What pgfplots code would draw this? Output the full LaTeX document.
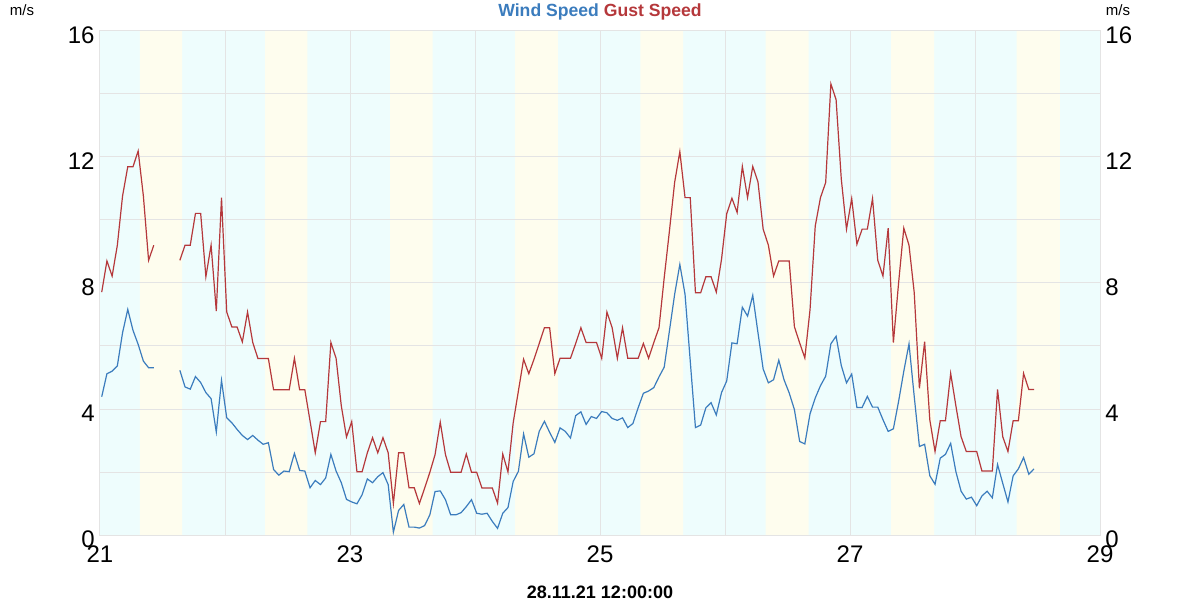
\documentclass[border=0pt]{standalone}
\usepackage{pgfplots}
\pgfplotsset{compat=1.18}
\usepackage{pgfplotstable}
\usepackage{fontspec}
\setmainfont{Liberation Sans}
\definecolor{windblue}{HTML}{3B7CBD}
\definecolor{gustred}{HTML}{B5383B}
\definecolor{cyanband}{HTML}{EEFDFD}
\definecolor{yellowband}{HTML}{FEFDEE}
\definecolor{gridgray}{HTML}{E4E4E4}
\pgfplotstableread{
h wind gust
0 4.39 7.71
1 5.12 8.70
2 5.20 8.22
3 5.37 9.20
4 6.42 10.76
5 7.16 11.69
6 6.50 11.69
7 6.05 12.19
8 5.52 10.76
9 5.31 8.72
10 5.31 9.20
12 nan nan
15 5.23 8.72
16 4.70 9.20
17 4.63 9.20
18 5.03 10.21
19 4.84 10.21
20 4.52 8.20
21 4.33 9.20
22 3.27 7.11
23 4.91 10.71
24 3.72 7.08
25 3.56 6.60
26 3.35 6.60
27 3.16 6.13
28 3.03 7.08
29 3.16 6.11
30 3.01 5.60
31 2.88 5.60
32 2.93 5.60
33 2.08 4.61
34 1.90 4.61
35 2.03 4.61
36 2.01 4.61
37 2.59 5.61
38 2.05 4.61
39 2.03 4.61
40 1.50 3.62
41 1.73 2.61
42 1.60 3.60
43 1.81 3.60
44 2.56 6.11
45 2.03 5.61
46 1.66 4.10
47 1.13 3.11
48 1.05 3.60
49 0.99 2.01
50 1.28 2.01
51 1.78 2.61
52 1.66 3.09
53 1.85 2.61
54 1.98 3.09
55 1.60 2.61
56 0.09 1.00
57 0.78 2.61
58 0.97 2.61
59 0.25 1.50
60 0.25 1.50
61 0.22 1.00
62 0.30 1.49
63 0.64 1.99
64 1.38 2.55
65 1.40 3.58
66 1.12 2.55
67 0.64 1.99
68 0.64 1.99
69 0.71 1.99
70 0.90 2.57
71 1.12 1.99
72 0.69 1.99
73 0.66 1.49
74 0.69 1.49
75 0.43 1.49
76 0.21 1.01
77 0.69 2.57
78 0.87 2.00
79 1.70 3.56
80 2.02 4.57
81 3.21 5.58
82 2.47 5.12
83 2.58 5.58
84 3.29 6.08
85 3.61 6.58
86 3.26 6.58
87 2.94 5.12
88 3.40 5.61
89 3.29 5.61
90 3.08 5.61
91 3.79 6.08
92 3.91 6.58
93 3.51 6.11
94 3.76 6.11
95 3.70 6.11
96 3.92 5.61
97 3.88 7.08
98 3.70 6.58
99 3.64 5.61
100 3.72 6.58
101 3.41 5.61
102 3.54 5.61
103 4.04 5.61
104 4.50 6.08
105 4.57 5.61
106 4.68 6.11
107 5.02 6.58
108 5.33 8.17
109 6.48 9.65
110 7.64 11.19
111 8.59 12.17
112 7.64 10.71
113 5.52 10.71
114 3.41 7.69
115 3.49 7.69
116 4.04 8.20
117 4.20 8.20
118 3.81 7.71
119 4.52 8.75
120 4.89 10.20
121 6.10 10.69
122 6.07 10.24
123 7.23 11.70
124 6.95 10.71
125 7.61 11.70
126 6.42 11.21
127 5.27 9.71
128 4.83 9.20
129 4.93 8.22
130 5.55 8.70
131 4.93 8.70
132 4.51 8.70
133 3.98 6.61
134 2.97 6.10
135 2.89 5.62
136 3.85 7.16
137 4.35 9.81
138 4.74 10.71
139 5.04 11.19
140 6.07 14.32
141 6.31 13.82
142 5.38 11.30
143 4.83 9.71
144 5.11 10.68
145 4.05 9.23
146 4.05 9.71
147 4.40 9.71
148 4.06 10.68
149 4.06 8.72
150 3.66 8.22
151 3.29 9.74
152 3.37 6.11
153 4.24 8.00
154 5.20 9.74
155 6.07 9.20
156 4.40 7.70
157 2.81 4.66
158 2.88 6.14
159 1.88 3.65
160 1.61 2.65
161 2.44 3.63
162 2.56 3.63
163 2.91 5.13
164 2.01 4.10
165 1.39 3.12
166 1.14 2.65
167 1.20 2.65
168 0.93 2.65
169 1.24 2.03
170 1.39 2.03
171 1.18 2.03
172 2.24 4.62
173 1.64 3.12
174 1.05 2.65
175 1.88 3.63
176 2.10 3.63
177 2.46 5.13
178 1.93 4.62
179 2.10 4.62
}\windtable
\begin{document}
\begin{tikzpicture}
\begin{axis}[
  at={(0pt,0pt)}, anchor=origin,
  set layers,
  width=500pt, height=252pt, scale only axis,
  xmin=21, xmax=29, ymin=0, ymax=16,
  xtick={21,23,25,27,29},
  minor xtick={22,24,26,28},
  ytick={0,4,8,12,16},
  minor ytick={2,6,10,14},
  grid=both,
  major grid style={gridgray, line width=0.5pt},
  minor grid style={gridgray, line width=0.5pt},
  major tick length=0pt, minor tick length=0pt,
  axis line style={gridgray, line width=0.5pt},
  /pgf/number format/assume math mode=true,
  tick label style={font=\fontsize{12}{12}\selectfont, black},
  xticklabel style={anchor=center, yshift=-9.5pt},
  yticklabel style={anchor=east, inner sep=0pt, xshift=-2.5pt, yshift=-2pt},
  unbounded coords=jump,
]
\addplot[fill=cyanband, draw=none, on layer=axis background] coordinates {(21,0)(21,16)(29,16)(29,0)} \closedcycle;
\addplot[fill=yellowband, draw=none, on layer=axis background] coordinates {(21.32,0)(21.32,16)(21.656,16)(21.656,0)} \closedcycle;
\addplot[fill=yellowband, draw=none, on layer=axis background] coordinates {(22.32,0)(22.32,16)(22.658,16)(22.658,0)} \closedcycle;
\addplot[fill=yellowband, draw=none, on layer=axis background] coordinates {(23.32,0)(23.32,16)(23.66,16)(23.66,0)} \closedcycle;
\addplot[fill=yellowband, draw=none, on layer=axis background] coordinates {(24.32,0)(24.32,16)(24.662,16)(24.662,0)} \closedcycle;
\addplot[fill=yellowband, draw=none, on layer=axis background] coordinates {(25.322,0)(25.322,16)(25.664,16)(25.664,0)} \closedcycle;
\addplot[fill=yellowband, draw=none, on layer=axis background] coordinates {(26.324,0)(26.324,16)(26.668,16)(26.668,0)} \closedcycle;
\addplot[fill=yellowband, draw=none, on layer=axis background] coordinates {(27.328,0)(27.328,16)(27.672,16)(27.672,0)} \closedcycle;
\addplot[fill=yellowband, draw=none, on layer=axis background] coordinates {(28.332,0)(28.332,16)(28.678,16)(28.678,0)} \closedcycle;
\addplot[gustred, line width=0.6pt, mark=none] table[x expr=21+(\thisrow{h}+0.33)/24, y=gust] {\windtable};
\addplot[windblue, line width=0.6pt, mark=none] table[x expr=21+(\thisrow{h}+0.33)/24, y=wind] {\windtable};
\end{axis}
\begin{axis}[
  at={(0pt,0pt)}, anchor=origin,
  width=500pt, height=252pt, scale only axis,
  xmin=21, xmax=29, ymin=0, ymax=16,
  xtick=\empty,
  ytick={0,4,8,12,16},
  yticklabel pos=right,
  major tick length=0pt,
  axis line style={draw=none},
  /pgf/number format/assume math mode=true,
  tick label style={font=\fontsize{12}{12}\selectfont, black},
  yticklabel style={anchor=west, inner sep=0pt, xshift=2.5pt, yshift=-2pt},
]
\addplot[draw=none, mark=none] coordinates {(21,0)(29,16)};
\end{axis}
\node[font=\fontsize{7.5}{8}\selectfont, inner sep=0pt] at (-39pt,262.5pt) {m/s};
\node[font=\fontsize{7.5}{8}\selectfont, inner sep=0pt] at (509pt,262.5pt) {m/s};
\node[font=\fontsize{8.8}{10}\selectfont\bfseries, inner sep=0pt] at (250pt,261.5pt) {\textcolor{windblue}{Wind Speed} \textcolor{gustred}{Gust Speed}};
\node[font=\fontsize{9}{10}\selectfont\bfseries, inner sep=0pt] at (250pt,-28.5pt) {28.11.21 12:00:00};
\pgfresetboundingbox
\useasboundingbox (-50pt,-32.5pt) rectangle (550pt,267.5pt);
\end{tikzpicture}
\end{document}
